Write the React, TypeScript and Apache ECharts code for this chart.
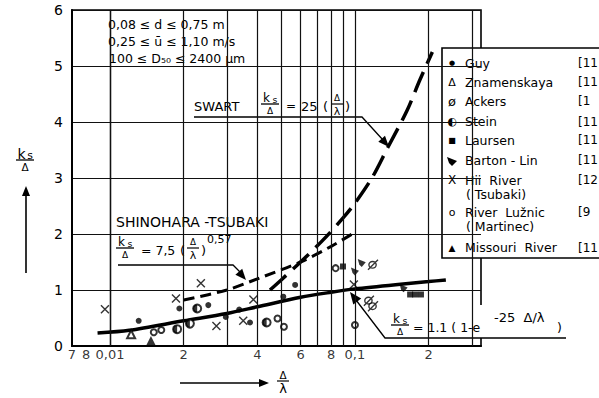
import React, { useEffect, useRef } from "react";
import * as echarts from "echarts";

// ---------- data ----------
const xTickValues = [0.007, 0.008, 0.01, 0.02, 0.04, 0.06, 0.08, 0.1, 0.2];
const xTickLabels = ["7", "8", "0,01", "2", "4", "6", "8", "0,1", "2"];
const xGridValues = [0.008, 0.009, 0.01, 0.02, 0.03, 0.04, 0.05, 0.06, 0.07, 0.08, 0.09, 0.1, 0.2, 0.3];

// ks/Δ = 1.1(1 - e^(-25 Δ/λ))  (solid)
const fitX = [0.0089, 0.012, 0.02, 0.03, 0.04, 0.06, 0.08, 0.1, 0.15, 0.2, 0.235];
const fitY = [0.23, 0.28, 0.45, 0.58, 0.7, 0.87, 0.96, 1.02, 1.1, 1.15, 1.18];
// Shinohara-Tsubaki (short dashes)
const shinX = [0.02, 0.03, 0.04, 0.06, 0.08, 0.1];
const shinY = [0.82, 1.0, 1.2, 1.5, 1.78, 2.03];
// Swart (long dashes)
const swartX = [0.045, 0.05, 0.06, 0.074, 0.09, 0.1, 0.118, 0.136, 0.163, 0.184, 0.207];
const swartY = [1.0, 1.18, 1.5, 1.89, 2.3, 2.55, 3.02, 3.54, 4.2, 4.75, 5.25];

const guy = [[0.0131, 0.45], [0.0192, 0.67], [0.0252, 0.73], [0.0297, 0.52], [0.0337, 0.65], [0.0373, 0.42], [0.051, 0.88], [0.057, 1.09]];
const znamenskaya = [[0.0122, 0.21]];
const ackers = [[0.1185, 1.45], [0.114, 0.81], [0.1185, 0.71]];
const stein = [[0.0188, 0.3], [0.0212, 0.4], [0.0227, 0.67], [0.0436, 0.42]];
const laursen = [[0.0894, 1.42], [0.168, 0.92], [0.176, 0.92], [0.186, 0.92]];
const bartonLin = [[0.1066, 1.48], [0.1, 1.33], [0.158, 1.03]];
const hiiRiver = [[0.00954, 0.655], [0.0186, 0.85], [0.0235, 1.12], [0.0272, 0.357], [0.035, 0.45], [0.0385, 0.83], [0.099, 1.1]];
const luznic = [[0.0151, 0.245], [0.0162, 0.285], [0.0483, 0.49], [0.0513, 0.345], [0.0834, 1.39], [0.1, 0.375]];
const missouri = [[0.0147, 0.1]];

const legendNames = ["Guy", "Znamenskaya", "Ackers", "Stein", "Laursen", "Barton - Lin", "Hii  River", "River  Lužnic", "Missouri  River"];
const legendSub = ["", "", "", "", "", "", "( Tsubaki)", "( Martinec)", ""];
const legendRefs = ["[11", "[11", "[1", "[11", "[11", "[11", "[12", "[9", "[11"];
const legendGlyphs = ["●", "Δ", "ø", "◐", "■", "", "X", "o", "▲"];

// ---------- helpers ----------
const FONT = "DejaVu Sans";
const pairs = (xs: number[], ys: number[]) => xs.map((x, i) => [x, ys[i]]);

const T = (x: number, y: number, text: string, size = 13, align = "left", extra: any = {}) => ({
  type: "text",
  x,
  y,
  style: {
    text,
    fontSize: size,
    fontFamily: FONT,
    fill: "#000",
    align,
    textAlign: align,
    verticalAlign: "middle",
    textVerticalAlign: "middle",
    ...extra,
  },
});
const L = (x1: number, y1: number, x2: number, y2: number, w = 1.3) => ({
  type: "line",
  shape: { x1, y1, x2, y2 },
  style: { stroke: "#000", lineWidth: w },
});
const PL = (pts: number[][], w = 1.3) => ({
  type: "polyline",
  shape: { points: pts },
  style: { stroke: "#000", lineWidth: w, fill: null },
});
const R = (x: number, y: number, w: number, h: number) => ({
  type: "rect",
  shape: { x, y, width: w, height: h },
  style: { fill: "#fff" },
});
function arrowHead(tx: number, ty: number, fx: number, fy: number, len: number, half: number) {
  const dx = tx - fx, dy = ty - fy;
  const d = Math.hypot(dx, dy);
  const ux = dx / d, uy = dy / d;
  const bx = tx - ux * len, by = ty - uy * len;
  return {
    type: "polygon",
    shape: { points: [[tx, ty], [bx - uy * half, by + ux * half], [bx + uy * half, by - ux * half]] },
    style: { fill: "#000" },
  };
}
function ksFrac(cx: number, cy: number, size = 12) {
  return [
    T(cx - 3.5, cy - 6.5, "k", size, "center"),
    T(cx + 5, cy - 4.5, "s", size * 0.78, "center"),
    L(cx - 9, cy, cx + 9, cy, 1.3),
    T(cx, cy + 6.5, "Δ", size * 0.75, "center"),
  ];
}
function dlFrac(cx: number, cy: number, size = 11) {
  return [
    T(cx, cy - 6, "Δ", size * 0.8, "center"),
    L(cx - 6, cy, cx + 6, cy, 1.2),
    T(cx, cy + 7, "λ", size, "center"),
  ];
}

const hollowPath = { color: "rgba(0,0,0,0)", borderColor: "#000", borderWidth: 1.4 };
const hollowEmpty = { color: "#000", borderColor: "#000", borderWidth: 1.4 };
const filled = { color: "#000" };

function buildGraphic() {
  const g: any[] = [];
  // parameter box
  g.push(R(104, 11, 152, 54));
  g.push(T(108, 24, "0,08 ≤ d ≤ 0,75 m", 12.5));
  g.push(T(108, 41, "0,25 ≤ ū ≤ 1,10 m/s", 12.5));
  g.push(T(109, 58, "100 ≤ D₅₀ ≤ 2400 μm", 12.5));

  // SWART label
  g.push(R(190, 91, 166, 26));
  g.push(T(194, 106, "SWART", 13));
  g.push(...ksFrac(270, 104, 12));
  g.push(T(286, 106, "=", 12));
  g.push(T(301, 106, "25", 13));
  g.push(T(323, 106, "(", 13));
  g.push(...dlFrac(337, 104, 11));
  g.push(T(345, 106, ")", 13));
  g.push(PL([[194, 117], [362, 117], [383, 140]], 1.3));
  g.push(arrowHead(389, 147, 362, 117, 11, 4.5));

  // Shinohara-Tsubaki label
  g.push(R(111, 209, 163, 22));
  g.push(R(111, 231, 129, 34));
  g.push(T(116, 222, "SHINOHARA -TSUBAKI", 14));
  g.push(...ksFrac(125, 248, 12));
  g.push(T(141, 250, "= 7,5", 12.5));
  g.push(T(180, 250, "(", 13));
  g.push(...dlFrac(193, 248, 11));
  g.push(T(201, 250, ")", 13));
  g.push(T(207, 239, "0,57", 11));
  g.push(PL([[118, 265], [233, 265], [240, 272]], 1.3));
  g.push(arrowHead(246, 280, 233, 265, 11, 4.5));

  // lower label
  g.push(R(383, 305, 210, 33));
  g.push(...ksFrac(400, 325, 12));
  g.push(T(413, 327, "= 1.1 ( 1-e", 12.5));
  g.push(T(494, 317, "-25  Δ/λ", 13));
  g.push(T(557, 327, ")", 12.5));
  g.push(PL([[566, 338], [385, 338], [356, 300]], 1.3));
  g.push(arrowHead(350, 292, 385, 338, 12, 5));

  // axis titles
  g.push(...ksFrac(25, 160, 14));
  g.push(L(26, 273, 26, 194, 1.6));
  g.push(arrowHead(26, 186, 26, 273, 10, 4));
  g.push(L(180, 383, 261, 383, 1.6));
  g.push(arrowHead(269, 383, 180, 383, 10, 4));
  g.push(...dlFrac(283, 381, 13));

  // legend
  g.push({
    type: "rect",
    shape: { x: 442, y: 48, width: 180, height: 210 },
    style: { fill: "#fff", stroke: "#000", lineWidth: 1.6 },
  });
  const ys = [63, 82, 101, 121.5, 140, 160, 180, 212, 247.5];
  const glyphSize = [7, 11, 13, 11, 8, 0, 12, 11, 9];
  ys.forEach((y, i) => {
    if (i === 5) {
      g.push({ type: "polygon", shape: { points: [[447, 157], [457, 161], [452, 166], [449, 163]] }, style: { fill: "#000" } });
    } else {
      g.push(T(452, y, legendGlyphs[i], glyphSize[i], "center"));
    }
    g.push(T(465, y, legendNames[i], 12.5));
    if (legendSub[i]) g.push(T(466, y + 14.5, legendSub[i], 12.5));
    g.push(T(578, y, legendRefs[i], 12));
  });
  return g;
}

export default function App() {
  const ref = useRef<HTMLDivElement>(null);
  useEffect(() => {
    const chart = echarts.init(ref.current!, null, { renderer: "svg" });
    const sym = (name: string, data: number[][], symbol: string, size: any, style: any, extra: any = {}) => ({
      type: "scatter",
      name,
      data,
      symbol,
      symbolSize: size,
      itemStyle: style,
      silent: true,
      z: 4,
      ...extra,
    });
    const option: any = {
      animation: false,
      backgroundColor: "#fff",
      grid: { left: 72, right: 118, top: 10, bottom: 52, show: true, borderColor: "#000", borderWidth: 1.6 },
      xAxis: {
        type: "log",
        logBase: 10,
        min: 0.007,
        max: 0.327,
        axisLine: { show: true, lineStyle: { color: "#000", width: 2 } },
        axisTick: { show: false },
        axisLabel: { show: false },
        splitLine: { show: false },
      },
      yAxis: {
        type: "value",
        min: 0,
        max: 6,
        interval: 1,
        axisLine: { show: true, lineStyle: { color: "#000", width: 2 } },
        axisTick: { show: false },
        axisLabel: { color: "#000", fontSize: 14, fontFamily: FONT, margin: 9 },
        splitLine: { show: true, lineStyle: { color: "#111", width: 1.2 } },
      },
      series: [
        {
          type: "line",
          name: "grid",
          data: [],
          silent: true,
          z: 1,
          markLine: {
            silent: true,
            symbol: ["none", "none"],
            label: { show: false },
            lineStyle: { color: "#111", width: 1.2, type: "solid" },
            data: xGridValues.map((v) => ({ xAxis: v })),
          },
        },
        {
          type: "line",
          name: "fit",
          data: pairs(fitX, fitY),
          smooth: 0.3,
          showSymbol: false,
          silent: true,
          z: 3,
          lineStyle: { color: "#000", width: 3.5 },
        },
        {
          type: "line",
          name: "Shinohara-Tsubaki",
          data: pairs(shinX, shinY),
          smooth: 0.3,
          showSymbol: false,
          silent: true,
          z: 3,
          lineStyle: { color: "#000", width: 3, type: [11, 6] },
        },
        {
          type: "line",
          name: "Swart",
          data: pairs(swartX, swartY),
          smooth: 0.3,
          showSymbol: false,
          silent: true,
          z: 3,
          lineStyle: { color: "#000", width: 3.5, type: [22, 9] },
        },
        sym("Guy", guy, "circle", 6, filled),
        sym("Znamenskaya", znamenskaya, "emptyTriangle", 8, hollowEmpty),
        sym("Ackers", ackers, "path://M6,2A4,4 0 1,1 6,10A4,4 0 1,1 6,2ZM1,12L12,0", 10, hollowPath),
        sym("Stein", stein, "emptyCircle", 8, hollowEmpty),
        sym("Stein-half", stein, "path://M5,0A5,5 0 0,0 5,10Z", [4, 8], filled, { symbolOffset: [-2, 0], z: 5 }),
        sym("Laursen", laursen, "rect", 6, filled),
        sym("Barton-Lin", bartonLin, "path://M0,0L10,4L5,10L2,7Z", 8, filled),
        sym("Hii River", hiiRiver, "path://M0,0L10,10M10,0L0,10", 8, hollowPath),
        sym("River Lužnic", luznic, "emptyCircle", 6, hollowEmpty),
        sym("Missouri River", missouri, "triangle", 9, filled),
        {
          type: "scatter",
          name: "ticks",
          data: xTickValues.map((v) => [v, 0]),
          symbolSize: 1,
          itemStyle: { color: "rgba(0,0,0,0)" },
          silent: true,
          clip: false,
          z: 5,
          label: {
            show: true,
            position: "bottom",
            distance: 1,
            color: "#000",
            fontSize: 13,
            fontFamily: FONT,
            formatter: (p: any) => xTickLabels[p.dataIndex],
          },
        },
      ],
      graphic: { elements: buildGraphic() },
    };
    chart.setOption(option);
    return () => chart.dispose();
  }, []);
  return (
    <div
      ref={ref}
      style={{ position: "fixed", left: 0, top: 0, width: 599, height: 398, background: "#fff" }}
    />
  );
}
